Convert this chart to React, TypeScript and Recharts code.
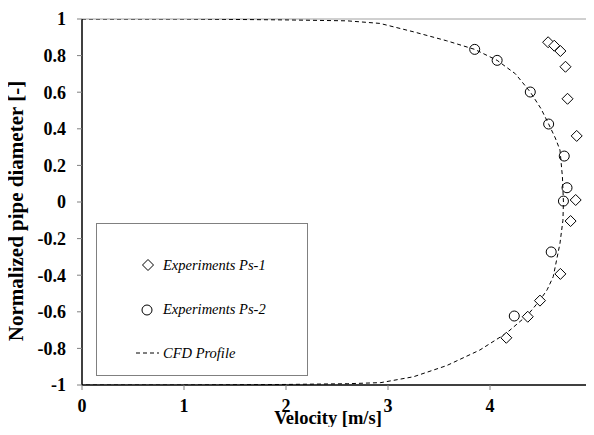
import * as React from 'react'
import {
  ComposedChart,
  Scatter,
  XAxis,
  YAxis,
  ReferenceLine,
} from 'recharts'

// velocity [m/s] vs normalized diameter [-]
const ps1Velocity = [4.57, 4.63, 4.69, 4.74, 4.76, 4.85, 4.84, 4.79, 4.69, 4.49, 4.37, 4.16]
const ps1Diameter = [0.873, 0.854, 0.825, 0.739, 0.564, 0.361, 0.011, -0.104, -0.393, -0.539, -0.627, -0.742]

const ps2Velocity = [3.85, 4.07, 4.395, 4.575, 4.728, 4.755, 4.72, 4.6, 4.238]
const ps2Diameter = [0.834, 0.774, 0.601, 0.426, 0.251, 0.078, 0.005, -0.273, -0.623]

const cfdVelocity = [
  0, 1, 2, 2.6, 2.92, 3.25, 3.575, 3.85, 4.07, 4.25, 4.395, 4.5, 4.575, 4.64, 4.686, 4.71, 4.72,
  4.715, 4.686, 4.62, 4.56, 4.49, 4.37, 4.16, 3.9, 3.575, 3.25, 2.93, 2.6, 2, 1, 0,
]
const cfdDiameter = [
  1, 1, 0.995, 0.99, 0.976, 0.93, 0.881, 0.834, 0.774, 0.7, 0.601, 0.51, 0.426, 0.35, 0.284, 0.138, 0,
  -0.1, -0.226, -0.408, -0.48, -0.536, -0.617, -0.717, -0.809, -0.894, -0.955, -0.987, -0.993, -0.997, -1, -1,
]

const xTicks = [0, 1, 2, 3, 4, 5]
const yTicks = [-1, -0.8, -0.6, -0.4, -0.2, 0, 0.2, 0.4, 0.6, 0.8, 1]
const legendLabels = ['Experiments Ps-1', 'Experiments Ps-2', 'CFD Profile']

const zip = (v: number[], y: number[]) => v.map((val, i) => ({ v: val, y: y[i] }))
const ps1 = zip(ps1Velocity, ps1Diameter)
const ps2 = zip(ps2Velocity, ps2Diameter)
const cfd = zip(cfdVelocity, cfdDiameter)

const font = '"Liberation Serif", "Times New Roman", serif'

const Diamond = (props: any) => {
  const { cx, cy } = props
  const s = 5.5
  return (
    <polygon
      points={`${cx},${cy - s} ${cx + s},${cy} ${cx},${cy + s} ${cx - s},${cy}`}
      fill="#fff"
      stroke="#000"
      strokeWidth={1}
    />
  )
}

const Ring = (props: any) => {
  const { cx, cy } = props
  return <circle cx={cx} cy={cy} r={5} fill="none" stroke="#000" strokeWidth={1} />
}

const NoDot = () => <g />

// legend box sits inside the plot, lower left
const LegendBox = () => (
  <svg
    width={212}
    height={153}
    style={{ position: 'absolute', left: 96, top: 223, background: '#fff' }}
  >
    <rect x={0.5} y={0.5} width={211} height={152} fill="#fff" stroke="#808080" />
    <Diamond cx={52} cy={42} />
    <Ring cx={51} cy={87} />
    <line x1={40} x2={63} y1={130} y2={130} stroke="#000" strokeDasharray="4 3" />
    {legendLabels.map((t, i) => (
      <text key={t} x={67} y={47 + i * 44} fontFamily={font} fontStyle="italic" fontSize={14.5}>
        {t}
      </text>
    ))}
  </svg>
)

const fmt = (n: number) => String(Math.round(n * 10) / 10)

export default function App() {
  return (
    <div style={{ margin: -8, width: 594, height: 435, background: '#fff', position: 'relative' }}>
      <ComposedChart
        width={594}
        height={435}
        margin={{ top: 19, right: 2, bottom: 0, left: 0 }}
        style={{ fontFamily: font }}
      >
        <XAxis
          type="number"
          dataKey="v"
          domain={[0, 5]}
          ticks={xTicks}
          interval={0}
          height={50}
          tickSize={5}
          tickMargin={9}
          axisLine={{ stroke: '#000', strokeWidth: 1.5 }}
          tickLine={{ stroke: '#808080' }}
          tick={{ fill: '#000', fontSize: 18, fontWeight: 'bold', fontFamily: font }}
          tickFormatter={fmt}
          label={{
            value: 'Velocity [m/s]',
            position: 'insideBottom',
            offset: 11,
            dx: -9,
            fill: '#000',
            fontSize: 18.5,
            fontWeight: 'bold',
            fontFamily: font,
          }}
          allowDataOverflow
        />
        <YAxis
          type="number"
          dataKey="y"
          domain={[-1, 1]}
          ticks={yTicks}
          interval={0}
          width={82}
          tickSize={5}
          tickMargin={11}
          axisLine={{ stroke: '#000', strokeWidth: 1.5 }}
          tickLine={{ stroke: '#808080' }}
          tick={{ fill: '#000', fontSize: 18, fontWeight: 'bold', fontFamily: font }}
          tickFormatter={fmt}
          label={{
            value: 'Normalized pipe diameter [-]',
            angle: -90,
            position: 'insideLeft',
            offset: 16,
            dy: 9,
            fill: '#000',
            fontSize: 21,
            fontWeight: 'bold',
            fontFamily: font,
            style: { textAnchor: 'middle' },
          }}
          allowDataOverflow
        />
        <ReferenceLine y={1} stroke="#a0a0a0" ifOverflow="visible" />
        <ReferenceLine x={5} stroke="#808080" ifOverflow="visible" />
        <Scatter
          name="CFD Profile"
          data={cfd}
          line={{ stroke: '#000', strokeWidth: 1, strokeDasharray: '4 3' }}
          shape={NoDot}
          isAnimationActive={false}
        />
        <Scatter name="Experiments Ps-1" data={ps1} shape={Diamond} isAnimationActive={false} />
        <Scatter name="Experiments Ps-2" data={ps2} shape={Ring} isAnimationActive={false} />
      </ComposedChart>
      <LegendBox />
    </div>
  )
}
